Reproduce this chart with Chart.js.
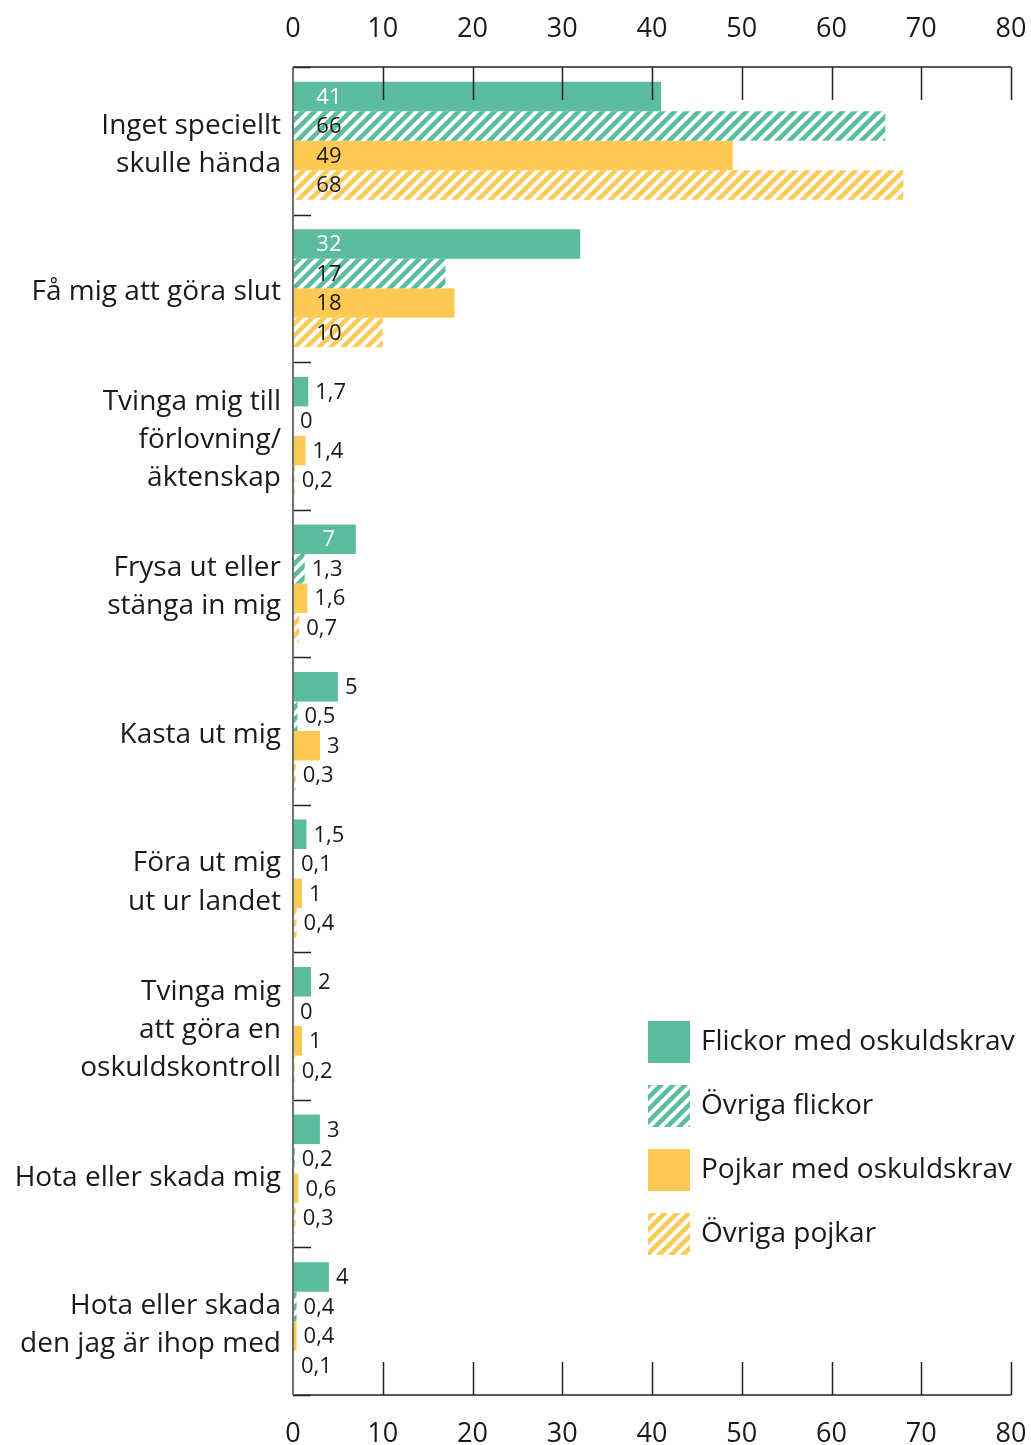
<!DOCTYPE html>
<html>
<head>
<meta charset="utf-8">
<script src="https://cdn.jsdelivr.net/npm/chart.js@4.4.0/dist/chart.umd.min.js"></script>
<style>
  html, body { margin: 0; padding: 0; background: #fff; }
  #wrap { width: 1031px; height: 1445px; }
</style>
</head>
<body>
<div id="wrap"><canvas id="chart" width="1031" height="1445"></canvas></div>
<script>
"use strict";

var categories = [
    ["Inget speciellt", "skulle hända"],
    ["Få mig att göra slut"],
    ["Tvinga mig till", "förlovning/", "äktenskap"],
    ["Frysa ut eller", "stänga in mig"],
    ["Kasta ut mig"],
    ["Föra ut mig", "ut ur landet"],
    ["Tvinga mig", "att göra en", "oskuldskontroll"],
    ["Hota eller skada mig"],
    ["Hota eller skada", "den jag är ihop med"]
];
var seriesNames = ["Flickor med oskuldskrav", "Övriga flickor", "Pojkar med oskuldskrav", "Övriga pojkar"];
var flickorOskuld = [41, 32, 1.7, 7, 5, 1.5, 2, 3, 4];
var ovrigaFlickor = [66, 17, 0, 1.3, 0.5, 0.1, 0, 0.2, 0.4];
var pojkarOskuld = [49, 18, 1.4, 1.6, 3, 1, 1, 0.6, 0.4];
var ovrigaPojkar = [68, 10, 0.2, 0.7, 0.3, 0.4, 0.2, 0.3, 0.1];
var xMin = 0, xMax = 80, xStep = 10;

var green = "#5bbc9f";
var yellow = "#fec955";
var textColor = "#1a1a1a";
var fontFamily = "'Open Sans', 'Noto Sans', sans-serif";

// diagonal white stripes on colour
function makeHatch(color) {
    var c = document.createElement("canvas");
    c.width = 12; c.height = 12;
    var g = c.getContext("2d");
    g.fillStyle = color;
    g.fillRect(0, 0, 12, 12);
    g.strokeStyle = "#ffffff";
    g.lineWidth = 4;
    g.beginPath();
    g.moveTo(-3, 3); g.lineTo(3, -3);
    g.moveTo(0, 12); g.lineTo(12, 0);
    g.moveTo(9, 15); g.lineTo(15, 9);
    g.stroke();
    return g.createPattern(c, "repeat");
}

function fmt(v) {
    return String(v).replace(".", ",");
}

// x axes keep a fixed size so the plot lands where the original has it
function fixX(h) {
    return function (s) {
        s.height = h;
        s.paddingLeft = 0;
        s.paddingRight = 20;
    };
}

// short inward ticks and the left axis line
var axisMarks = {
    id: "axisMarks",
    afterDatasetsDraw: function (chart) {
        var ctx = chart.ctx, a = chart.chartArea;
        var xs = chart.scales.x, ys = chart.scales.y;
        ctx.save();
        ctx.strokeStyle = "#222";
        ctx.lineWidth = 1.5;
        ctx.beginPath();
        for (var v = xMin + xStep; v <= xMax; v += xStep) {
            var px = Math.round(xs.getPixelForValue(v)) + 0.5;
            ctx.moveTo(px, a.top); ctx.lineTo(px, a.top + 33);
            ctx.moveTo(px, a.bottom); ctx.lineTo(px, a.bottom - 33);
        }
        ctx.moveTo(a.left, a.top); ctx.lineTo(a.right, a.top);
        ctx.moveTo(a.left, a.bottom); ctx.lineTo(a.right, a.bottom);
        var n = categories.length;
        for (var k = 0; k <= n; k++) {
            var py;
            if (k === 0) py = a.top;
            else if (k === n) py = a.bottom;
            else py = (ys.getPixelForValue(k - 1) + ys.getPixelForValue(k)) / 2;
            py = Math.round(py) + 0.5;
            ctx.moveTo(a.left, py); ctx.lineTo(a.left + 18, py);
        }
        ctx.stroke();
        ctx.strokeStyle = "#707070";
        ctx.lineWidth = 2;
        ctx.beginPath();
        ctx.moveTo(a.left, a.top); ctx.lineTo(a.left, a.bottom);
        ctx.stroke();
        ctx.restore();
    }
};

// value labels
var valueLabels = {
    id: "valueLabels",
    afterDatasetsDraw: function (chart) {
        var ctx = chart.ctx, xs = chart.scales.x;
        ctx.save();
        ctx.font = "22px " + fontFamily;
        ctx.textBaseline = "middle";
        chart.data.datasets.forEach(function (ds, i) {
            var meta = chart.getDatasetMeta(i);
            meta.data.forEach(function (el, j) {
                var v = ds.data[j];
                if (v >= 7) {
                    ctx.textAlign = "center";
                    ctx.fillStyle = i === 0 ? "#ffffff" : textColor;
                    ctx.fillText(fmt(v), xs.getPixelForValue(4), el.y + 1);
                } else {
                    ctx.textAlign = "left";
                    ctx.fillStyle = textColor;
                    ctx.fillText(fmt(v), el.x + 7, el.y + 1);
                }
            });
        });
        ctx.restore();
    }
};

// legend inside the plot, lower right
var boxLegend = {
    id: "boxLegend",
    afterDraw: function (chart) {
        var ctx = chart.ctx;
        var left = 648, top = 1021, size = 42, gap = 64;
        ctx.save();
        ctx.font = "28px " + fontFamily;
        ctx.textBaseline = "middle";
        ctx.textAlign = "left";
        chart.data.datasets.forEach(function (ds, i) {
            var y = top + i * gap;
            ctx.fillStyle = ds.backgroundColor;
            ctx.fillRect(left, y, size, size);
            ctx.fillStyle = textColor;
            ctx.fillText(ds.label, left + 53, y + size / 2);
        });
        ctx.restore();
    }
};

var values = [flickorOskuld, ovrigaFlickor, pojkarOskuld, ovrigaPojkar];
var fills = [green, makeHatch(green), yellow, makeHatch(yellow)];

var CHART = document.getElementById("chart");
var myChart = new Chart(CHART, {
    type: "bar",
    plugins: [axisMarks, valueLabels, boxLegend],
    data: {
        labels: categories,
        datasets: values.map(function (d, i) {
            return {
                label: seriesNames[i],
                data: d,
                backgroundColor: fills[i],
                borderWidth: 0,
                barPercentage: 1.0,
                categoryPercentage: 0.8,
            };
        }),
    },
    options: {
        indexAxis: "y",
        responsive: false,
        animation: false,
        layout: {
            padding: 0,
        },
        plugins: {
            legend: { display: false },
            tooltip: { enabled: false },
        },
        scales: {
            x: {
                type: "linear",
                position: "bottom",
                min: xMin,
                max: xMax,
                grid: { display: false, drawTicks: false },
                border: { display: false },
                ticks: {
                    stepSize: xStep,
                    color: textColor,
                    font: { family: fontFamily, size: 27 },
                    padding: 23,
                },
                afterFit: fixX(47),
            },
            x2: {
                type: "linear",
                position: "top",
                min: xMin,
                max: xMax,
                grid: { display: false, drawTicks: false },
                border: { display: false },
                ticks: {
                    stepSize: xStep,
                    color: textColor,
                    font: { family: fontFamily, size: 27 },
                    padding: 21,
                },
                afterFit: fixX(67),
            },
            y: {
                grid: { display: false, drawTicks: false },
                border: { display: false },
                ticks: {
                    color: textColor,
                    font: { family: fontFamily, size: 28, lineHeight: 1.36 },
                    padding: 12,
                    labelOffset: 4,
                    autoSkip: false,
                },
                afterFit: function (s) { s.width = 293; },
            },
        },
    },
});
</script>
</body>
</html>
